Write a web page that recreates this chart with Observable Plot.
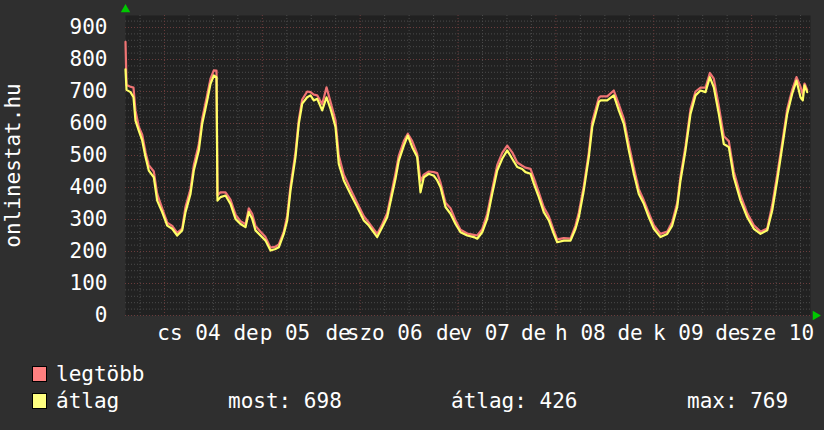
<!DOCTYPE html>
<html>
<head>
<meta charset="utf-8">
<script src="https://cdn.jsdelivr.net/npm/d3@7"></script>
<script src="https://cdn.jsdelivr.net/npm/@observablehq/plot@0.6"></script>
<style>
  html, body { margin: 0; padding: 0; background: #2f2f2f; }
  body { width: 824px; height: 430px; overflow: hidden; font-family: "DejaVu Sans Mono", monospace; color: #ffffff; }
  #chart svg { display: block; }
  #legend { position: relative; width: 824px; height: 85px; font-size: 21px; line-height: 21px; }
  #legend .sw { position: absolute; width: 13px; height: 14px; border: 1px solid #000; }
  #legend .t { position: absolute; white-space: pre; }
</style>
</head>
<body>
<div id="chart"></div>
<div id="legend"></div>
<script>
// hours since the start of the 7-day window
const hours = [0, 0.25, 1.23, 1.96, 2.45, 3.26, 4.10, 4.91, 5.71, 6.94, 7.77, 9.00, 10.23, 11.45, 12.68, 13.91, 14.72, 15.94, 16.75, 17.98, 18.81, 20.04, 20.85, 21.66, 22.32, 22.56, 23.30, 24.53, 25.75, 26.98, 28.20, 29.43, 30.24, 31.07, 31.88, 33.11, 34.34, 35.56, 36.79, 37.60, 38.82, 39.66, 40.47, 41.69, 42.50, 43.34, 44.56, 45.37, 46.18, 47.02, 48.24, 49.30, 50.28, 51.50, 52.31, 53.54, 55.18, 56.83, 58.45, 59.67, 61.73, 62.96, 64.18, 65.41, 66.22, 67.03, 68.26, 69.24, 70.32, 71.54, 72.35, 73.16, 74.39, 75.61, 76.45, 77.26, 78.48, 79.71, 80.94, 82.16, 83.81, 85.42, 86.26, 87.48, 88.71, 89.94, 91.16, 92.39, 93.62, 94.84, 96.07, 97.29, 98.10, 99.33, 100.14, 101.37, 102.59, 103.82, 105.04, 105.88, 107.50, 109.14, 110.37, 111.18, 112.40, 113.63, 114.46, 116.08, 116.50, 118.14, 119.76, 120.99, 122.21, 123.44, 124.67, 125.89, 127.12, 128.35, 129.57, 131.21, 132.86, 134.08, 135.31, 136.12, 137.35, 138.57, 139.80, 141.03, 142.25, 143.31, 144.29, 145.51, 146.74, 147.97, 149.19, 150.84, 152.48, 154.10, 155.74, 157.38, 158.61, 159.83, 161.06, 162.29, 163.51, 164.57, 165.55, 166.11, 166.53, 167.19];
// "legtöbb" (maximum) series
const maxVals = [855, 720, 715, 712, 640, 590, 565, 510, 470, 450, 380, 335, 290, 280, 258, 272, 340, 395, 470, 535, 615, 690, 740, 766, 765, 375, 385, 385, 362, 315, 295, 285, 335, 318, 280, 262, 245, 212, 215, 222, 262, 312, 405, 510, 612, 675, 700, 698, 690, 688, 660, 713, 668, 610, 500, 440, 395, 352, 310, 290, 255, 285, 320, 395, 445, 500, 545, 568, 545, 505, 420, 440, 450, 448, 445, 415, 352, 335, 298, 268, 256, 252, 250, 270, 318, 395, 470, 508, 531, 510, 478, 468, 462, 458, 430, 385, 338, 310, 266, 238, 242, 240, 282, 322, 405, 510, 605, 680, 685, 685, 703, 660, 615, 535, 462, 395, 360, 320, 282, 255, 262, 292, 352, 435, 530, 645, 700, 712, 712, 758, 740, 655, 560, 545, 450, 375, 320, 282, 262, 272, 345, 440, 540, 645, 705, 745, 715, 690, 725, 705];
// "átlag" (average) series
const avgVals = [769, 705, 698, 682, 609, 578, 547, 495, 453, 432, 359, 323, 281, 271, 250, 266, 323, 380, 453, 516, 599, 672, 724, 750, 745, 359, 370, 375, 349, 302, 286, 276, 323, 302, 266, 250, 234, 203, 208, 213, 255, 297, 391, 495, 599, 662, 682, 688, 672, 677, 641, 682, 646, 589, 474, 422, 380, 339, 297, 281, 245, 276, 307, 380, 427, 484, 531, 562, 526, 495, 385, 432, 443, 437, 422, 401, 339, 318, 286, 260, 250, 245, 240, 260, 302, 380, 453, 490, 516, 490, 464, 458, 448, 443, 412, 370, 323, 297, 255, 229, 234, 234, 271, 307, 391, 495, 589, 667, 672, 672, 688, 641, 599, 516, 443, 380, 349, 307, 271, 245, 255, 281, 339, 422, 516, 630, 688, 703, 698, 745, 713, 630, 536, 526, 432, 359, 307, 271, 255, 266, 328, 422, 526, 630, 693, 734, 682, 672, 719, 698];

const yTicks = [0, 100, 200, 300, 400, 500, 600, 700, 800, 900];
const dayLabels = ["cs 04", "p 05", "szo 06", "v 07", "h 08", "k 09", "sze 10"];
const dayLabelHours = [15.56, 39.1, 63.56, 88.1, 111.56, 135.56, 159.56];
const deLabels = ["de", "de", "de", "de", "de", "de"];
const deLabelHours = [29.58, 52.14, 79.24, 100.09, 123.75, 147.71];
const midnightHours = [9.56, 33.56, 57.56, 81.56, 105.56, 129.56, 153.56];
const legendNames = ["legtöbb", "átlag"];
const legendColors = ["#ff8080", "#ffff80"];
const statLabels = ["most: 698", "átlag: 426", "max: 769"];

const data = hours.map((h, i) => ({h, max: maxVals[i], avg: avgVals[i]}));
const yMax = 937.5;
const minorY = d3.range(0, yMax, 20).filter(v => v % 100 !== 0);
const minorX = d3.range(3.56, 168, 6).filter(v => !midnightHours.some(m => Math.abs(m - v) < 0.01));

const font = "DejaVu Sans Mono";
const chart = Plot.plot({
  width: 824,
  height: 345,
  marginLeft: 125,
  marginRight: 14,
  marginTop: 15,
  marginBottom: 30,
  style: {background: "#2f2f2f", color: "#ffffff", fontFamily: font, fontSize: "21px"},
  x: {type: "linear", domain: [0, 168]},
  y: {domain: [0, yMax]},
  marks: [
    Plot.frame({fill: "#212121", stroke: null}),
    Plot.ruleY(minorY, {stroke: "#4a4a4a", strokeDasharray: "1,2", strokeWidth: 1}),
    Plot.ruleX(minorX, {stroke: "#4a4a4a", strokeDasharray: "1,2", strokeWidth: 1}),
    Plot.ruleY(yTicks, {stroke: "#6a3c3c", strokeDasharray: "1,2", strokeWidth: 1}),
    Plot.ruleX(midnightHours, {stroke: "#6a3c3c", strokeDasharray: "1,2", strokeWidth: 1}),
    Plot.line(data, {x: "h", y: "max", stroke: "#f07474", strokeWidth: 2.2, curve: "linear"}),
    Plot.line(data, {x: "h", y: "avg", stroke: "#ffff66", strokeWidth: 2.2, curve: "linear"}),
    Plot.axisY({ticks: yTicks, tickSize: 0, tickPadding: 18, fontSize: 21, label: null, fill: "#ffffff"}),
    Plot.axisX({ticks: dayLabelHours, tickFormat: (d, i) => dayLabels[i], tickSize: 0, tickPadding: 10, fontSize: 21, label: null, fill: "#ffffff"}),
    Plot.axisX({ticks: deLabelHours, tickFormat: (d, i) => deLabels[i], tickSize: 0, tickPadding: 10, fontSize: 21, label: null, fill: "#ffffff"}),
    Plot.text(["onlinestat.hu"], {frameAnchor: "left", textAnchor: "middle", rotate: -90, dx: -112, fontSize: 21, fill: "#ffffff", fontFamily: font}),
    Plot.dot([0], {x: () => 0, y: () => yMax, dy: -6, symbol: "triangle", r: 3.5, fill: "#00c800", stroke: null}),
    Plot.dot([0], {x: () => 168, y: () => 0, dx: 5, symbol: "triangle", rotate: 90, r: 3.5, fill: "#00c800", stroke: null})
  ]
});
document.getElementById("chart").appendChild(chart);

// legend below the SVG
const leg = document.getElementById("legend");
legendNames.forEach((name, i) => {
  const sw = document.createElement("div");
  sw.className = "sw";
  sw.style.left = "32px";
  sw.style.top = (21 + i * 27) + "px";
  sw.style.background = legendColors[i];
  leg.appendChild(sw);
  const t = document.createElement("div");
  t.className = "t";
  t.style.left = "56px";
  t.style.top = (19 + i * 27) + "px";
  t.textContent = name;
  leg.appendChild(t);
});
const statX = [228, 451, 687];
statLabels.forEach((s, i) => {
  const t = document.createElement("div");
  t.className = "t";
  t.style.left = statX[i] + "px";
  t.style.top = (19 + 27) + "px";
  t.textContent = s;
  leg.appendChild(t);
});
</script>
</body>
</html>
